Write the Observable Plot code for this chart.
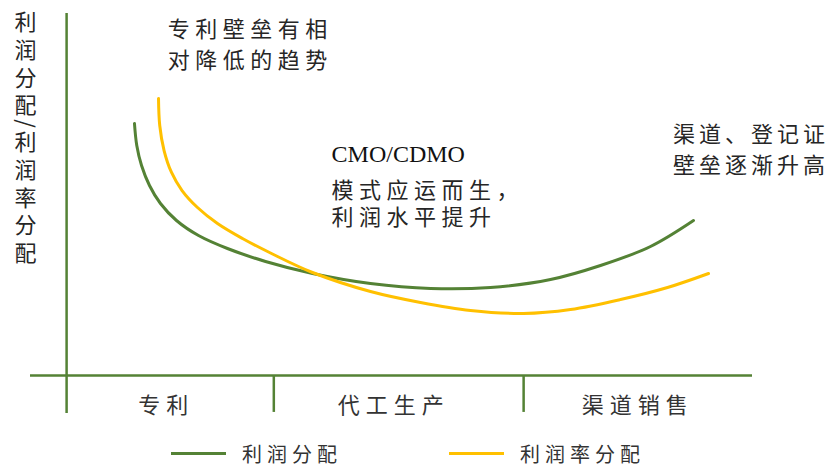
<!DOCTYPE html>
<html>
<head>
<meta charset="utf-8">
<script src="https://cdn.jsdelivr.net/npm/d3@7"></script>
<script src="https://cdn.jsdelivr.net/npm/@observablehq/plot@0.6"></script>
<style>
  body { margin: 0; background: #fff; font-family: "Noto Sans CJK SC", sans-serif; }
  #wrap { width: 834px; }
  #legend { position: relative; height: 26px; width: 834px; font-size: 20px; color: #333; }
  #legend .item { position: absolute; top: 0; display: flex; align-items: center; height: 26px; }
  #legend .swatch { width: 55px; height: 3px; margin-right: 16px; }
  #legend span.lbl { letter-spacing: 5px; }
</style>
</head>
<body>
<div id="wrap"></div>
<script>
// ---- data ----
const categories = ["专利", "代工生产", "渠道销售"];
const categoryCenters = [18.8, 50.3, 84.1];
const stageBoundaries = [33.7, 68.3];

const seriesNames = ["利润分配", "利润率分配"];
const seriesColors = ["#548235", "#FFC000"];

// 利润分配 (green)
const profitX = [14.40, 14.72, 15.38, 16.48, 18.00, 20.22, 23.27, 27.28, 32.55, 39.06, 47.09, 55.40, 63.71, 72.02, 78.95, 85.87, 91.83];
const profitY = [69.61, 63.54, 58.01, 52.49, 47.51, 42.82, 38.67, 35.08, 31.49, 28.18, 25.41, 24.03, 24.31, 26.52, 30.39, 35.64, 42.82];

// 利润率分配 (yellow)
const marginX = [17.73, 17.90, 18.50, 19.53, 20.99, 23.13, 25.90, 29.36, 33.38, 39.06, 47.09, 54.02, 60.94, 68.28, 74.79, 81.72, 88.23, 93.91];
const marginY = [76.52, 69.06, 62.15, 56.08, 51.10, 46.41, 41.99, 37.85, 33.70, 28.45, 23.20, 20.17, 17.96, 17.13, 18.23, 20.99, 24.31, 28.18];

// vertical y-axis title: 利润分配 / 利润率分配
const yLabelParts = ["利\n润\n分\n配", "/", "利\n润\n率\n分\n配"];
const yLabelY = [100.8, 69.6, 67.7];

const noteTexts = ["专利壁垒有相\n对降低的趋势", "CMO/CDMO", "模式应运而生，\n利润水平提升", "渠道、登记证\n壁垒逐渐升高"];
const noteX = [19.0, 41.7, 41.7, 89.0];
const noteY = [99.5, 63.6, 54.5, 70.6];

// ---- build ----
const profit = profitX.map((x, i) => ({x, y: profitY[i]}));
const margin = marginX.map((x, i) => ({x, y: marginY[i]}));
const cats = categories.map((c, i) => ({c, x: categoryCenters[i]}));
const notes = noteTexts.map((t, i) => ({t, x: noteX[i], y: noteY[i]}));
const axisColor = "#548235";
const textColor = "#262626";

const chart = Plot.plot({
  width: 834,
  height: 440,
  marginLeft: 30,
  marginRight: 82,
  marginTop: 13,
  marginBottom: 65,
  x: {domain: [0, 100], axis: null},
  y: {domain: [0, 100], axis: null},
  marks: [
    // axes
    Plot.ruleX([5], {y1: -10.5, y2: 100, stroke: axisColor, strokeWidth: 2.5}),
    Plot.ruleY([0], {x1: 0, x2: 100, stroke: axisColor, strokeWidth: 2.5}),
    Plot.ruleX(stageBoundaries, {y1: -10.2, y2: 0, stroke: axisColor, strokeWidth: 2.5}),
    // curves
    Plot.line(profit, {x: "x", y: "y", curve: "catmull-rom", stroke: seriesColors[0], strokeWidth: 3}),
    Plot.line(margin, {x: "x", y: "y", curve: "catmull-rom", stroke: seriesColors[1], strokeWidth: 3}),
    // category labels
    Plot.text(cats, {x: "x", y: -8.3, text: "c", fontSize: 22, fill: "#333", fontFamily: "Noto Sans CJK SC"}),
    // annotations (Chinese)
    Plot.text([notes[0], notes[3]], {x: "x", y: "y", text: "t", textAnchor: "start", lineAnchor: "top",
      fontSize: 22, lineHeight: 1.4, fill: textColor, fontFamily: "Noto Sans CJK SC"}),
    Plot.text([notes[2]], {x: "x", y: "y", text: "t", textAnchor: "start", lineAnchor: "top",
      fontSize: 22, lineHeight: 1.25, fill: textColor, fontFamily: "Noto Sans CJK SC"}),
    // annotation (Latin)
    Plot.text([notes[1]], {x: "x", y: "y", text: "t", textAnchor: "start", lineAnchor: "top",
      fontSize: 24, fill: "#111", fontFamily: "Liberation Serif"}),
    // y-axis title, stacked vertically
    Plot.text([yLabelParts[0], yLabelParts[2]], {x: -0.69, y: (d, i) => [yLabelY[0], yLabelY[2]][i], text: d => d,
      lineAnchor: "top", lineHeight: 1.26, fontSize: 22, fill: textColor, fontFamily: "Noto Sans CJK SC"}),
    Plot.text([yLabelParts[1]], {x: -0.69, y: yLabelY[1], text: d => d, rotate: 90,
      fontSize: 22, fill: textColor, fontFamily: "Noto Sans CJK SC"})
  ]
});

// widen character spacing of the horizontal Chinese texts
const spaced = new Map([
  [noteTexts[0], 5.5], [noteTexts[2], 5.5], [noteTexts[3], 4],
  ...categories.map(c => [c, 6])
]);
chart.querySelectorAll("text").forEach(t => {
  const key = Array.from(t.querySelectorAll("tspan")).map(s => s.textContent).join("\n") || t.textContent;
  if (spaced.has(key)) t.setAttribute("letter-spacing", spaced.get(key));
});

document.getElementById("wrap").appendChild(chart);

// legend
const legend = document.createElement("div");
legend.id = "legend";
const legendLeft = [171, 449];
seriesNames.forEach((name, i) => {
  const item = document.createElement("div");
  item.className = "item";
  item.style.left = legendLeft[i] + "px";
  const sw = document.createElement("div");
  sw.className = "swatch";
  sw.style.background = seriesColors[i];
  const lbl = document.createElement("span");
  lbl.className = "lbl";
  lbl.textContent = name;
  item.appendChild(sw);
  item.appendChild(lbl);
  legend.appendChild(item);
});
document.getElementById("wrap").appendChild(legend);
</script>
</body>
</html>
